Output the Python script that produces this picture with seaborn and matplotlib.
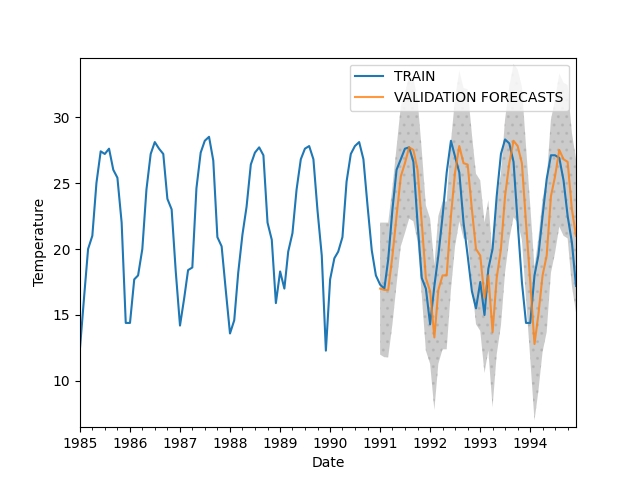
import numpy as np
import pandas as pd
import matplotlib
matplotlib.use("Agg")
import matplotlib.pyplot as plt
import matplotlib.dates as mdates
import seaborn as sns

train_temp = [
    12.5, 16.5, 20.0, 21.0, 25.0, 27.4, 27.2, 27.6, 26.0, 25.4, 22.0, 14.4,
    14.4, 17.7, 18.0, 20.0, 24.5, 27.2, 28.1, 27.6, 27.2, 23.8, 23.0, 18.3,
    14.2, 16.3, 18.4, 18.6, 24.6, 27.3, 28.2, 28.5, 26.7, 20.9, 20.2, 16.9,
    13.6, 14.6, 18.2, 21.1, 23.2, 26.4, 27.3, 27.7, 27.1, 22.0, 20.7, 15.9,
    18.3, 17.0, 19.8, 21.2, 24.5, 26.8, 27.6, 27.8, 26.8, 22.9, 19.5, 12.3,
    17.7, 19.3, 19.8, 20.9, 25.1, 27.2, 27.8, 28.1, 26.8, 23.3, 19.9, 18.0,
    17.3, 17.0, 19.2, 23.0, 26.0, 26.8, 27.6, 27.7, 26.6, 22.0, 17.8, 17.0,
    14.3, 17.2, 19.5, 22.5, 25.8, 28.2, 27.0, 25.8, 22.0, 19.5, 16.8, 15.5,
    17.5, 15.0, 18.5, 20.0, 24.0, 27.2, 28.3, 28.0, 26.6, 22.0, 17.5, 14.4,
    14.4, 18.0, 19.5, 22.5, 25.3, 27.1, 27.1, 26.9, 25.2, 22.5, 20.5, 17.2,
]
forecast_temp = [
    17.0, 16.9, 16.9, 19.5, 22.5, 25.5, 26.5, 27.7, 27.5, 26.0, 22.0, 17.8,
    16.8, 13.3, 16.9, 18.0, 18.0, 22.5, 25.8, 27.8, 26.5, 26.4, 23.0, 20.0,
    19.5, 16.3, 18.0, 13.7, 17.8, 20.0, 24.0, 26.5, 28.2, 27.8, 26.5, 22.0,
    17.5, 12.8, 15.0, 18.0, 19.5, 24.0, 25.5, 27.5, 26.8, 26.6, 23.0, 21.0,
]
band_width = [
    5.0, 5.1, 5.1, 5.2, 5.2, 5.3, 5.3, 5.4, 5.4, 5.4, 5.5, 5.5,
    5.5, 5.5, 5.6, 5.6, 5.6, 5.6, 5.6, 5.7, 5.7, 5.7, 5.7, 5.7,
    5.7, 5.7, 5.7, 5.7, 5.8, 5.8, 5.8, 5.8, 5.8, 5.8, 5.8, 5.8,
    5.8, 5.8, 5.8, 5.8, 5.8, 5.8, 5.8, 5.8, 5.8, 5.8, 5.8, 5.8,
]

train = pd.DataFrame({"Date": pd.date_range("1985-01-01", periods=len(train_temp), freq="MS"),
                      "Temperature": train_temp})
valid = pd.DataFrame({"Date": pd.date_range("1991-01-01", periods=len(forecast_temp), freq="MS"),
                      "Temperature": forecast_temp,
                      "width": band_width})

fig, ax = plt.subplots(figsize=(6.4, 4.8), dpi=100)
sns.lineplot(data=train, x="Date", y="Temperature", ax=ax, color="#1f77b4", linewidth=1.5, label="TRAIN")
sns.lineplot(data=valid, x="Date", y="Temperature", ax=ax, color="#ff7f0e", alpha=0.8,
             linewidth=1.5, label="VALIDATION FORECASTS")
ax.fill_between(valid["Date"], valid["Temperature"] - valid["width"],
                valid["Temperature"] + valid["width"],
                color="#999999", alpha=0.5, hatch="..", edgecolor="#aaaaaa", linewidth=0)

ax.set_xlim(pd.Timestamp("1985-01-01"), pd.Timestamp("1994-12-01"))
ax.set_ylim(6.5, 34.5)
ax.xaxis.set_major_locator(mdates.YearLocator())
ax.xaxis.set_major_formatter(mdates.DateFormatter("%Y"))
ax.xaxis.set_minor_locator(mdates.MonthLocator(bymonth=[4, 7, 10]))
ax.set_xlabel("Date")
ax.set_ylabel("Temperature")
ax.legend(loc="upper right")

fig.savefig("out.png", dpi=100)
